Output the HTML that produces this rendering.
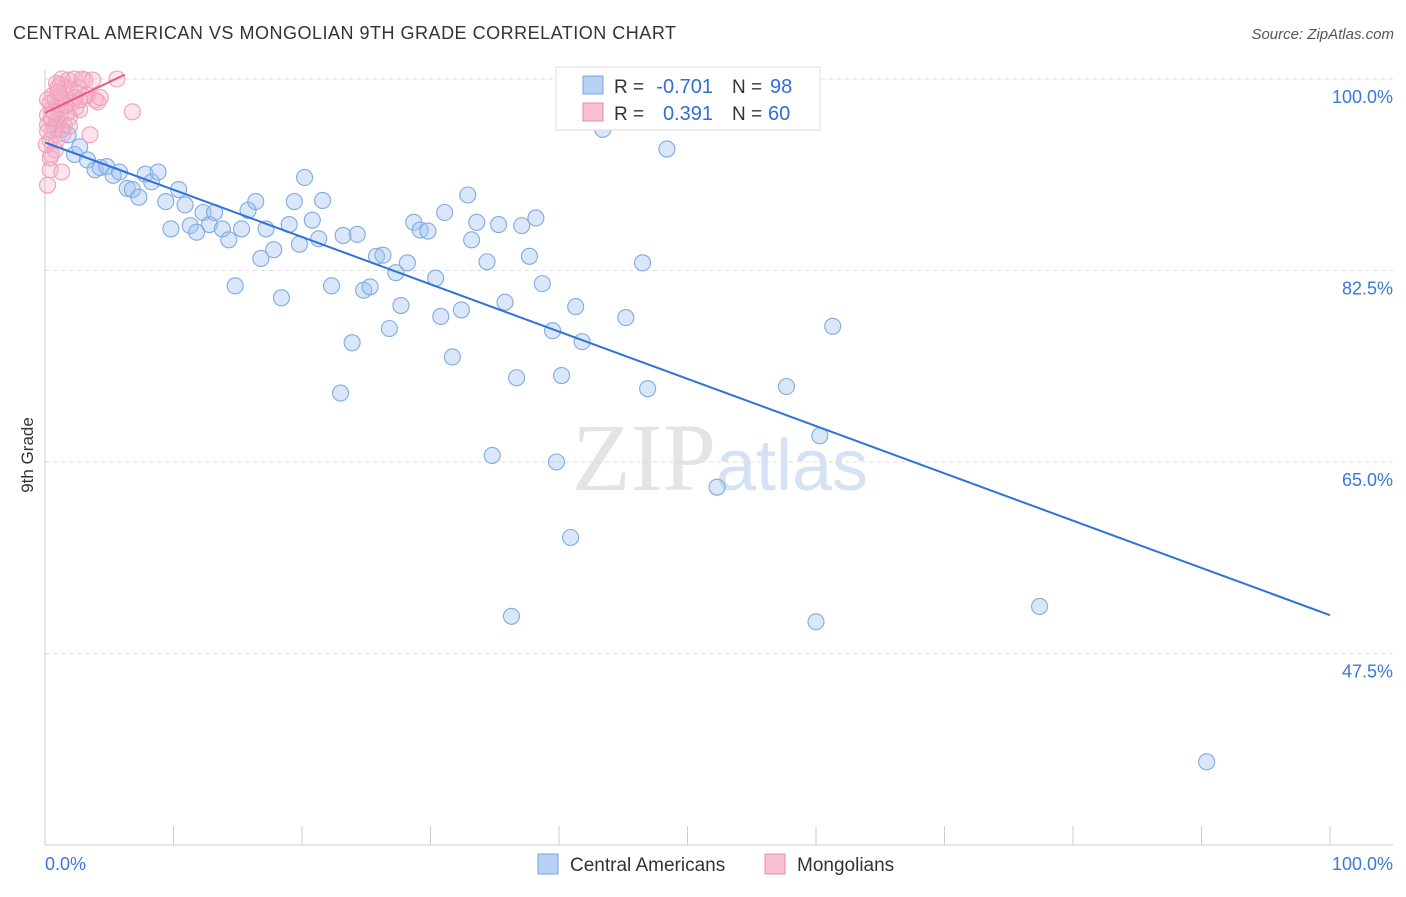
<!DOCTYPE html>
<html><head><meta charset="utf-8"><style>
body{margin:0;background:#fff;font-family:"Liberation Sans",sans-serif}
</style></head><body>
<svg id="c" width="1406" height="892" xmlns="http://www.w3.org/2000/svg">
<text x="13" y="39" font-size="18" fill="#333" textLength="663">CENTRAL AMERICAN VS MONGOLIAN 9TH GRADE CORRELATION CHART</text>
<text x="1394" y="39" font-size="15" fill="#555" font-style="italic" text-anchor="end">Source: ZipAtlas.com</text>
<text x="720" y="490" font-size="96" fill="#e4e4e4" text-anchor="middle" font-family="Liberation Serif,serif">ZIP<tspan fill="#d4e2f4" font-family="Liberation Sans,sans-serif" font-size="72">atlas</tspan></text>
<text transform="translate(33,455) rotate(-90)" font-size="17" fill="#333" text-anchor="middle">9th Grade</text>
<g id="grid"></g><g id="pts"></g><g id="lines"></g>
<g>
<rect x="556" y="67" width="264" height="63" fill="#fff" stroke="#ddd"/>
<rect x="583" y="76" width="20" height="18" fill="#b7d0f3" stroke="#7aa6e0"/>
<rect x="583" y="103" width="20" height="18" fill="#f7c0d0" stroke="#e88aa8"/>
<text x="614" y="93" font-size="19" fill="#333">R =</text>
<text x="713" y="93" font-size="20" fill="#2f6fd6" text-anchor="end">-0.701</text>
<text x="732" y="93" font-size="19" fill="#333">N =</text>
<text x="770" y="93" font-size="20" fill="#2f6fd6">98</text>
<text x="614" y="120" font-size="19" fill="#333">R =</text>
<text x="713" y="120" font-size="20" fill="#2f6fd6" text-anchor="end">0.391</text>
<text x="732" y="120" font-size="19" fill="#333">N =</text>
<text x="768" y="120" font-size="20" fill="#2f6fd6">60</text>
</g>
<g>
<rect x="538" y="854" width="20" height="20" fill="#b7d0f3" stroke="#7aa6e0"/>
<text x="570" y="871" font-size="19" fill="#333">Central Americans</text>
<rect x="765" y="854" width="20" height="20" fill="#f7c0d0" stroke="#e88aa8"/>
<text x="797" y="871" font-size="19" fill="#333">Mongolians</text>
</g>
</svg>
<script>
const yTicks=[100,82.5,65,47.5];
const xTickLabels=["0.0%","100.0%"];
const blueX=[0.9,1.3,1.8,2.3,2.7,3.3,3.9,4.3,4.8,5.3,5.8,6.4,6.8,7.3,7.8,8.3,8.8,9.4,9.8,10.4,10.9,11.3,11.8,12.3,12.8,13.2,13.8,14.3,14.8,15.3,15.8,16.4,16.8,17.2,17.8,18.4,19.0,19.4,19.8,20.2,20.8,21.3,21.6,22.3,23.2,23.0,23.9,24.3,24.8,25.3,25.8,26.3,26.8,27.3,27.7,28.2,28.7,29.2,29.8,30.4,30.8,31.1,31.7,32.4,32.9,33.2,33.6,34.4,34.8,35.3,35.8,36.3,36.7,37.1,37.7,38.2,38.7,39.5,39.8,40.2,40.9,41.3,41.8,43.4,45.2,46.5,46.9,48.4,49.1,52.3,57.7,60.0,60.3,61.3,77.4,90.4];
const blueY=[95.8,95.4,94.9,93.1,93.8,92.6,91.7,91.9,92.0,91.2,91.5,90.0,89.9,89.2,91.3,90.6,91.5,88.8,86.3,89.9,88.5,86.6,86.0,87.8,86.7,87.8,86.3,85.3,81.1,86.3,88.0,88.8,83.6,86.3,84.4,80.0,86.7,88.8,84.9,91.0,87.1,85.4,88.9,81.1,85.7,71.3,75.9,85.8,80.7,81.0,83.8,83.9,77.2,82.3,79.3,83.2,86.9,86.2,86.1,81.8,78.3,87.8,74.6,78.9,89.4,85.3,86.9,83.3,65.6,86.7,79.6,50.9,72.7,86.6,83.8,87.3,81.3,77.0,65.0,72.9,58.1,79.2,76.0,95.4,78.2,83.2,71.7,93.6,99.9,62.7,71.9,50.4,67.4,77.4,51.8,37.6];
const pinkX=[0.2,0.4,0.5,0.8,0.4,0.6,0.2,0.9,1.2,0.5,1.0,1.3,0.8,1.6,1.9,1.2,1.8,2.3,3.1,1.3,2.1,2.7,3.3,3.9,4.1,4.3,5.6,6.8,3.5,1.3,0.4,0.9,1.5,1.9,0.2,0.6,1.0,1.6,2.6,3.0,2.4,1.2,0.8,0.2,0.5,1.2,0.9,1.7,2.3,2.9,0.4,0.1,0.7,1.4,0.2,1.9,1.0,2.7,3.7,1.6];
const pinkY=[90.3,91.7,93.1,93.5,94.4,95.3,95.8,96.3,96.7,97.2,97.6,98.1,98.1,98.5,99.0,99.5,99.9,100,99.9,100,97.8,97.2,98.5,98.1,97.9,98.3,100,97.0,94.9,91.5,92.8,94.4,95.8,96.5,96.7,98.5,99.2,99.2,99.2,98.4,97.4,97.3,95.5,95.2,96.4,98.4,99.6,96.9,98.3,100,97.8,94.0,97.0,95.0,98.1,95.7,98.8,98.1,99.9,97.6];
const blueLine=[94.2,51.0];
const pinkLine=[96.9,100.4,6.2];
const X0=45,X1=1330,Y100=79,PX=191.5/17.5;
const sx=v=>X0+(X1-X0)*v/100, sy=v=>Y100+(100-v)*PX;
const NS="http://www.w3.org/2000/svg";
function mk(t,a,p){const e=document.createElementNS(NS,t);for(const k in a)e.setAttribute(k,a[k]);p.appendChild(e);return e;}
const g=document.getElementById('grid');
yTicks.forEach(v=>{
 const l=mk('line',{x1:45,x2:1393,y1:sy(v),y2:sy(v),stroke:'#ddd','stroke-dasharray':'4,4'},g);
 
 
 const t=mk('text',{x:1393,y:sy(v)+24,'font-size':18,fill:'#3a78d8','text-anchor':'end'},g);t.textContent=v.toFixed(1)+'%';
 
 
});
mk('line',{x1:45,x2:45,y1:70,y2:845,stroke:'#ccc'},g);
mk('line',{x1:45,x2:1393,y1:845,y2:845,stroke:'#ccc'},g);
for(let i=0;i<=10;i++){const x=sx(i*10);const l=mk('line',{x1:x,x2:x,y1:826,y2:845,stroke:'#ccc'},g);
 
 }
const t0=mk('text',{x:45,y:870,'font-size':18,fill:'#3a78d8'},g);t0.textContent=xTickLabels[0];


const t1=mk('text',{x:1393,y:870,'font-size':18,fill:'#3a78d8','text-anchor':'end'},g);t1.textContent=xTickLabels[1];


const P=document.getElementById('pts');
blueX.forEach((x,i)=>{const c=mk('circle',{cx:sx(x),cy:sy(blueY[i]),r:8,fill:'rgba(160,196,240,0.4)',stroke:'#7faae4','stroke-width':1.1},P);
 
 });
pinkX.forEach((x,i)=>{const c=mk('circle',{cx:sx(x),cy:sy(pinkY[i]),r:8,fill:'rgba(245,175,200,0.35)',stroke:'#eea0ba','stroke-width':1.1},P);
 
 });
const L=document.getElementById('lines');
const bl=mk('line',{x1:sx(0),y1:sy(blueLine[0]),x2:sx(100),y2:sy(blueLine[1]),stroke:'#2f72d8','stroke-width':2},L);


const pl=mk('line',{x1:sx(0),y1:sy(pinkLine[0]),x2:sx(pinkLine[2]),y2:sy(pinkLine[1]),stroke:'#e8588a','stroke-width':2},L);


</script>
</body></html>
